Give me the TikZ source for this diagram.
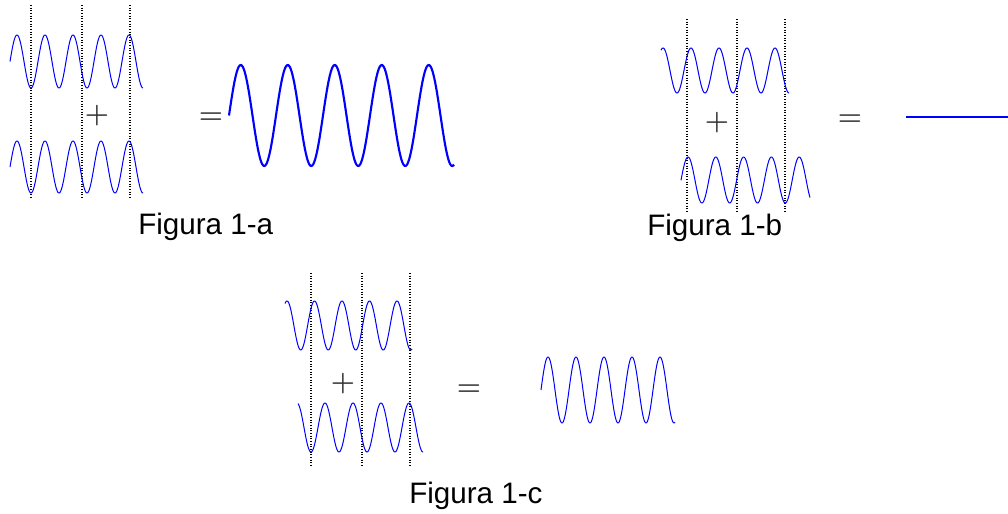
\documentclass[tikz,border=0pt]{standalone}
\usepackage{fontspec}
\newfontfamily\labelfont{Liberation Sans}
\begin{document}
\begin{tikzpicture}[x=0.75pt,y=-0.75pt,
  wave/.style={draw=blue, line width=0.75pt, line join=round},
  flatline/.style={draw=blue, line width=0.8pt},
  sumwave/.style={draw=blue, line width=1.6pt, line join=round},
  guide/.style={draw=black, line width=0.8pt, dash pattern=on 0.8pt off 1.2pt},
  caption/.style={font=\labelfont\fontsize{22.2}{26}\selectfont, text=black, inner sep=0pt, anchor=base west},
  op/.style={font=\fontsize{22}{26}\selectfont\boldmath, text=black!80, inner sep=0pt, anchor=center}]
\useasboundingbox (0,0) rectangle (1008,514);
% ---------- Figura 1-a ----------
\draw[guide] (31,5) -- (31,199);
\draw[guide] (82,5) -- (82,199);
\draw[guide] (130,5) -- (130,199);
\draw[wave] plot[domain=10:143, samples=240, smooth] (\x, {61.5 - 26.5*sin(12.857143*(\x-10))});
\draw[wave] plot[domain=10:143, samples=240, smooth] (\x, {167 - 26*sin(12.857143*(\x-10))});
\node[op] (plusA) at (97,116) {$+$};
\node[op] (eqA) at (211,118.5) {$=$};
\draw[sumwave] plot[domain=229:454, samples=300, smooth] (\x, {115.5 - 50.5*sin(7.659574*(\x-229))});
\node[caption] (capA) at (138,234) {Figura 1-a};
% ---------- Figura 1-b ----------
\draw[guide] (687,19) -- (687,213);
\draw[guide] (737,19) -- (737,213);
\draw[guide] (785,19) -- (785,213);
\draw[wave] plot[domain=661:789, samples=240, smooth] (\x, {70.5 - 22.5*cos(12.857143*(\x-663))});
\draw[wave] plot[domain=681:810, samples=240, smooth] (\x, {180 - 23*cos(12.94964*(\x-688))});
\node[op] (plusB) at (717,123) {$+$};
\node[op] (eqB) at (850,120) {$=$};
\coordinate (lineL) at (906,117);
\coordinate (lineR) at (1008,117);
\draw[flatline] (lineL) -- (lineR);
\node[caption] (capB) at (647,235) {Figura 1-b};
% ---------- Figura 1-c ----------
\draw[guide] (311,273) -- (311,467);
\draw[guide] (362,273) -- (362,467);
\draw[guide] (410,273) -- (410,467);
\draw[wave] plot[domain=285:412, samples=240, smooth] (\x, {325.5 - 24.5*cos(13.090909*(\x-287))});
\draw[wave] plot[domain=298:423, samples=240, smooth] (\x, {427.5 - 24.5*cos(12.857143*(\x-297))});
\node[op] (plusC) at (343,384) {$+$};
\node[op] (eqC) at (469,390) {$=$};
\draw[wave] plot[domain=541:675, samples=240, smooth] (\x, {390 - 33*cos(12.857143*(\x-548))});
\node[caption] (capC) at (409,503) {Figura 1-c};
\end{tikzpicture}
\end{document}
